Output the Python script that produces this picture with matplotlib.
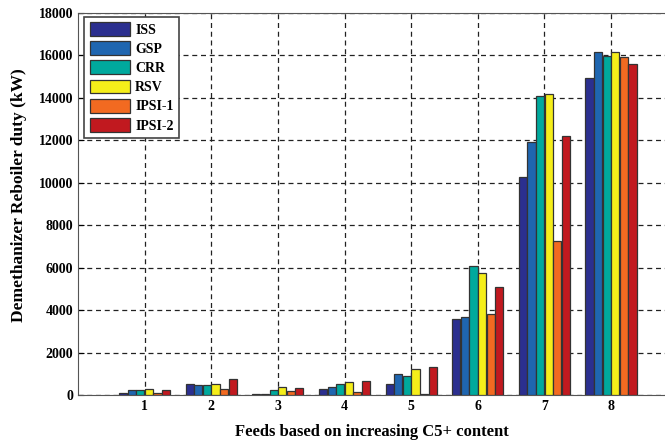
import matplotlib
matplotlib.use("Agg")
import matplotlib.pyplot as plt
import numpy as np

feeds = ["1", "2", "3", "4", "5", "6", "7", "8"]
series_names = ["ISS", "GSP", "CRR", "RSV", "IPSI-1", "IPSI-2"]
ISS = [80, 530, 50, 280, 530, 3570, 10280, 14940]
GSP = [220, 470, 50, 360, 990, 3690, 11890, 16160]
CRR = [220, 470, 220, 530, 910, 6090, 14070, 15960]
RSV = [270, 530, 390, 600, 1240, 5740, 14150, 16160]
IPSI1 = [80, 280, 200, 130, 60, 3820, 7260, 15900]
IPSI2 = [220, 740, 340, 660, 1320, 5100, 12210, 15600]
yticks = [0, 2000, 4000, 6000, 8000, 10000, 12000, 14000, 16000, 18000]

data = [ISS, GSP, CRR, RSV, IPSI1, IPSI2]
colors = ["#2B2F8F", "#1F66B0", "#00A99D", "#F5EE1A", "#F26A21", "#C1191F"]

plt.rcParams['font.family'] = ['Liberation Serif', 'DejaVu Serif']
plt.rcParams['font.weight'] = 'bold'

fig = plt.figure(figsize=(6.65, 4.43), dpi=100)
ax = fig.add_axes([78 / 665, 48 / 443, 587 / 665, 382.3 / 443])

x = np.arange(1, len(feeds) + 1)
w = 0.129
for i, (vals, c, name) in enumerate(zip(data, colors, series_names)):
    ax.bar(x + (i - 2.5) * w, vals, width=w * 0.95, color=c, edgecolor="#333333",
           linewidth=0.9, label=name, zorder=3)

ax.set_xlim(0, 8.81)
ax.set_ylim(0, 18000)
ax.set_xticks(x)
ax.set_xticklabels(feeds)
ax.set_yticks(yticks)
ax.grid(True, color="#222222", linestyle=(0, (4, 3)), linewidth=0.9)
ax.set_axisbelow(True)
ax.tick_params(direction="in", labelsize=10, length=4)
for lab in ax.get_xticklabels() + ax.get_yticklabels():
    lab.set_fontweight("bold")
for s in ["left", "top", "bottom"]:
    ax.spines[s].set_color("#555555")
ax.spines["right"].set_visible(False)

ax.set_ylabel("Demethanizer Reboiler duty (kW)", fontsize=12.5, fontweight="bold")
ax.yaxis.set_label_coords(-0.087, 0.523)
ax.set_xlabel("Feeds based on increasing C5+ content", fontsize=12, fontweight="bold", labelpad=8)

leg = ax.legend(loc="upper left", bbox_to_anchor=(0.011, 0.99),
                handlelength=2.9, handleheight=1.15, labelspacing=0.33,
                handletextpad=0.35, borderpad=0.4, borderaxespad=0.0, fancybox=False, framealpha=1,
                edgecolor="#444444", prop={"weight": "bold", "size": 10})
leg.get_frame().set_linewidth(1.2)

fig.savefig("out.png", dpi=100)
